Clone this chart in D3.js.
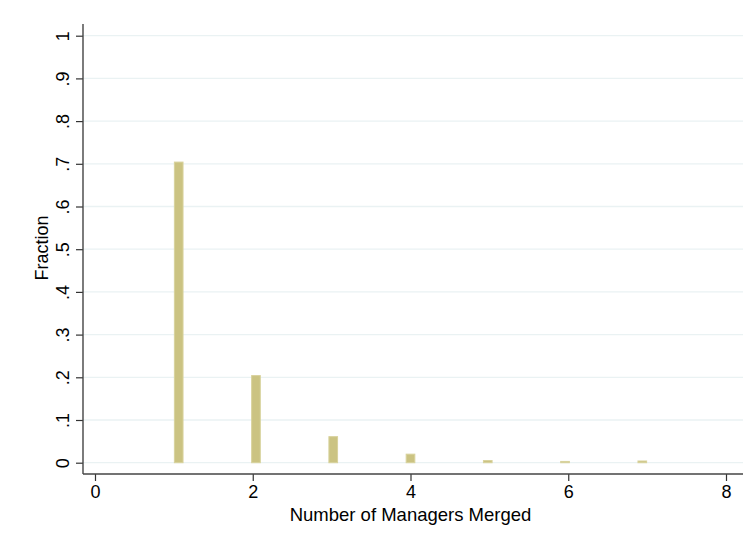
<!DOCTYPE html>
<html>
<head>
<meta charset="utf-8">
<script src="https://cdn.jsdelivr.net/npm/d3@7"></script>
<style>
  html, body { margin: 0; padding: 0; background: #fff; }
  svg { display: block; }
  text { font-family: "Liberation Sans", Arial, Helvetica, sans-serif; fill: #000; }
</style>
</head>
<body>
<div id="chart"></div>
<script>
// Histogram of the number of managers merged (fraction of observations per bin)
const managers = [1, 2, 3, 4, 5, 6, 7];
const fractions = [0.704, 0.204, 0.061, 0.020, 0.005, 0.003, 0.004];
const xTicks = [0, 2, 4, 6, 8];
const yTicks = [0, 0.1, 0.2, 0.3, 0.4, 0.5, 0.6, 0.7, 0.8, 0.9, 1];
const yTickLabels = ["0", ".1", ".2", ".3", ".4", ".5", ".6", ".7", ".8", ".9", "1"];
const binCount = 49;          // bins spanning the range of the data
const dataMin = 1, dataMax = 7;

const W = 743, H = 546;
const plot = { left: 83, right: 743, top: 24, bottom: 474 };

const svg = d3.select("#chart").append("svg")
  .attr("width", W).attr("height", H);

const x = d3.scaleLinear().domain([0, 8]).range([95, 726]);
const y = d3.scaleLinear().domain([0, 1]).range([462.7, 35.7]);

const binWidth = (dataMax - dataMin) / binCount;
const binStart = v => {
  const i = Math.min(binCount - 1, Math.floor((v - dataMin) / binWidth));
  return dataMin + i * binWidth;
};

// horizontal gridlines
svg.append("g").selectAll("line").data(yTicks).join("line")
  .attr("x1", plot.left).attr("x2", plot.right)
  .attr("y1", d => y(d)).attr("y2", d => y(d))
  .attr("stroke", "#eaf2f3").attr("stroke-width", 1.3);

// bars
svg.append("g").selectAll("rect").data(managers).join("rect")
  .attr("x", (d) => x(binStart(d)) + 0.5)
  .attr("width", (d) => x(binStart(d) + binWidth) - x(binStart(d)) - 1)
  .attr("y", (d, i) => y(fractions[i]))
  .attr("height", (d, i) => y(0) - y(fractions[i]))
  .attr("fill", "#cbc382")
  .attr("stroke", "#d8d29c")
  .attr("stroke-width", 1);

// y axis
const yAxis = d3.axisLeft(y).tickValues(yTicks)
  .tickFormat((d, i) => yTickLabels[i]).tickSize(7).tickPadding(0);
const gy = svg.append("g").attr("transform", `translate(${plot.left},0)`).call(yAxis);
gy.select(".domain").remove();
gy.selectAll(".tick line").attr("stroke", "#333").attr("stroke-width", 1.2);
gy.selectAll(".tick text")
  .attr("x", 0).attr("y", 0).attr("dy", 0)
  .attr("text-anchor", "middle")
  .attr("transform", "translate(-14.5,0) rotate(-90)")
  .style("font-size", "18px");
svg.append("line")
  .attr("x1", plot.left).attr("x2", plot.left)
  .attr("y1", plot.top).attr("y2", plot.bottom)
  .attr("stroke", "#444").attr("stroke-width", 1.4);

// x axis
const xAxis = d3.axisBottom(x).tickValues(xTicks).tickFormat(d3.format("d"))
  .tickSize(7).tickPadding(4);
const gx = svg.append("g").attr("transform", `translate(0,${plot.bottom})`).call(xAxis);
gx.select(".domain").remove();
gx.selectAll(".tick line").attr("stroke", "#333").attr("stroke-width", 1.2);
gx.selectAll(".tick text").attr("dy", "0.71em").style("font-size", "18px");
svg.append("line")
  .attr("x1", plot.left).attr("x2", plot.right)
  .attr("y1", plot.bottom).attr("y2", plot.bottom)
  .attr("stroke", "#444").attr("stroke-width", 1.4);

// axis titles
svg.append("text")
  .attr("x", 410.5).attr("y", 521)
  .attr("text-anchor", "middle")
  .style("font-size", "18.5px")
  .text("Number of Managers Merged");

svg.append("text")
  .attr("transform", "translate(47.5,248) rotate(-90)")
  .attr("text-anchor", "middle")
  .style("font-size", "18px")
  .text("Fraction");
</script>
</body>
</html>
